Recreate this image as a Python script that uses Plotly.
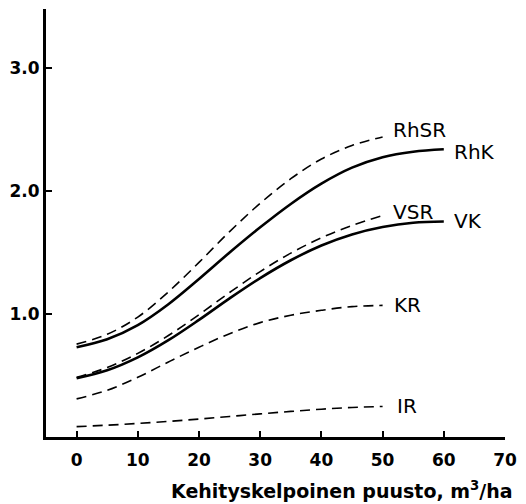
import plotly.graph_objects as go

x_sr = [0, 5, 10, 15, 20, 25, 30, 35, 40, 45, 50]
x_k = [0, 5, 10, 15, 20, 25, 30, 35, 40, 45, 50, 55, 60]

rhsr = [0.755, 0.835, 0.975, 1.18, 1.42, 1.67, 1.90, 2.10, 2.26, 2.37, 2.44]
rhk = [0.73, 0.795, 0.91, 1.08, 1.285, 1.50, 1.705, 1.895, 2.06, 2.19, 2.275, 2.32, 2.34]
vsr = [0.485, 0.565, 0.68, 0.825, 0.995, 1.175, 1.345, 1.495, 1.62, 1.72, 1.80]
vk = [0.477, 0.542, 0.647, 0.787, 0.952, 1.127, 1.292, 1.437, 1.557, 1.647, 1.707, 1.742, 1.752]
kr = [0.31, 0.38, 0.485, 0.61, 0.73, 0.84, 0.93, 0.99, 1.03, 1.06, 1.07]
ir = [0.084, 0.096, 0.11, 0.127, 0.146, 0.167, 0.188, 0.208, 0.226, 0.240, 0.248]

series = [
    ("RhSR", x_sr, rhsr, "dash"),
    ("RhK", x_k, rhk, "solid"),
    ("VSR", x_sr, vsr, "dash"),
    ("VK", x_k, vk, "solid"),
    ("KR", x_sr, kr, "dash"),
    ("IR", x_sr, ir, "dash"),
]

label_pos = {
    "RhSR": (51.3, 2.50),
    "RhK": (61.4, 2.32),
    "VSR": (51.3, 1.83),
    "VK": (61.4, 1.76),
    "KR": (51.6, 1.07),
    "IR": (52.0, 0.25),
}

x_ticks = [0, 10, 20, 30, 40, 50, 60, 70]
y_ticks = [1.0, 2.0, 3.0]
y_ticklabels = ["1.0", "2.0", "3.0"]
x_title = "Kehityskelpoinen puusto, m<sup>3</sup>/ha"

FONT = "DejaVu Sans"

fig = go.Figure()
for name, xs, ys, style in series:
    if style == "solid":
        line = dict(color="black", width=2.6, shape="spline", smoothing=1.0)
    else:
        line = dict(color="black", width=1.6, dash="10px,6px", shape="spline", smoothing=1.0)
    fig.add_trace(go.Scatter(x=xs, y=ys, mode="lines", line=line, name=name,
                             showlegend=False, hoverinfo="skip"))

for name, (lx, ly) in label_pos.items():
    fig.add_annotation(x=lx, y=ly, text=name, showarrow=False, xanchor="left",
                       yanchor="middle", font=dict(family=FONT, size=20, color="black"))

fig.add_annotation(x=1.022, y=-0.124, xref="paper", yref="paper", text=x_title,
                   showarrow=False, xanchor="right", yanchor="middle",
                   font=dict(family=FONT, size=19, color="black", weight="bold"))

fig.update_layout(
    width=526, height=504,
    margin=dict(l=45, r=16, t=9, b=67),
    paper_bgcolor="white", plot_bgcolor="white",
    xaxis=dict(
        range=[-5, 70], tickvals=x_ticks, ticks="inside", ticklen=6, tickwidth=1.5,
        tickcolor="black", showline=True, linewidth=3, linecolor="black",
        showgrid=False, zeroline=False, ticklabelstandoff=6,
        tickfont=dict(family=FONT, size=17, color="black", weight="bold"),
    ),
    yaxis=dict(
        range=[0, 3.48], tickvals=y_ticks, ticktext=y_ticklabels, ticks="inside",
        ticklen=6, tickwidth=1.5, tickcolor="black", showline=True, linewidth=3,
        linecolor="black", showgrid=False, zeroline=False,
        tickfont=dict(family=FONT, size=17, color="black", weight="bold"),
    ),
)

fig.write_html("out.html")
